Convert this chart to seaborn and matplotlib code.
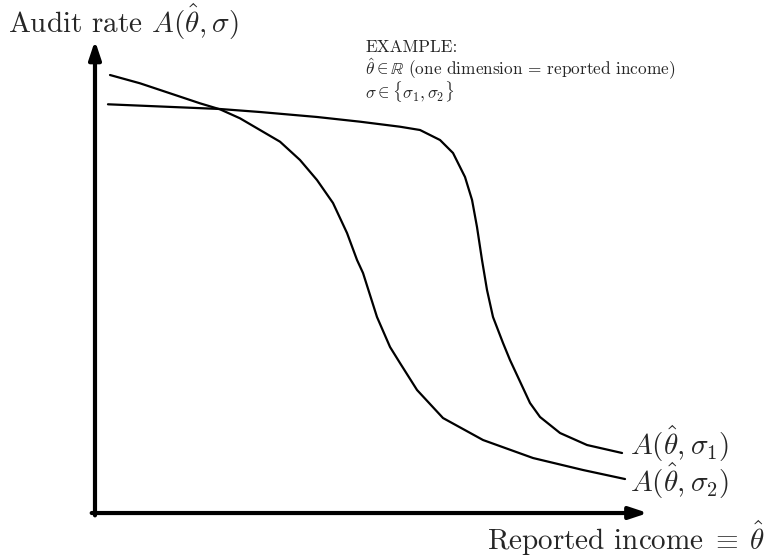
import matplotlib
matplotlib.use("Agg")
import matplotlib.pyplot as plt
import pandas as pd
import seaborn as sns

# Audit rate as a function of reported income, for two signals
income_s1 = [0.236, 2.273, 3.000, 4.036, 4.818, 5.545, 5.909, 6.273, 6.509,
             6.727, 6.855, 6.945, 7.036, 7.127, 7.236, 7.418, 7.545,
             7.909, 8.091, 8.455, 8.945, 9.582]
rate_s1 = [8.696, 8.596, 8.532, 8.426, 8.326, 8.219, 8.149, 7.936, 7.660,
           7.149, 6.660, 6.085, 5.383, 4.745, 4.170, 3.617, 3.255,
           2.340, 2.043, 1.702, 1.447, 1.277]

income_s2 = [0.273, 0.818, 1.364, 1.909, 2.273, 2.636, 3.000, 3.364, 3.727,
             4.036, 4.327, 4.582, 4.764, 4.873, 5.127, 5.364, 5.545, 5.855,
             6.327, 7.055, 7.964, 8.873, 9.636]
rate_s2 = [9.319, 9.143, 8.930, 8.717, 8.589, 8.398, 8.149, 7.900, 7.511,
           7.085, 6.596, 5.957, 5.383, 5.106, 4.170, 3.532, 3.191, 2.617,
           2.021, 1.553, 1.170, 0.915, 0.723]

labels = [r"$A(\hat{\theta},\sigma_1)$", r"$A(\hat{\theta},\sigma_2)$"]

df = pd.concat([
    pd.DataFrame({"income": income_s1, "rate": rate_s1, "curve": labels[0]}),
    pd.DataFrame({"income": income_s2, "rate": rate_s2, "curve": labels[1]}),
])

sns.set_theme(style="white")
plt.rcParams["font.family"] = ["cmr10", "DejaVu Serif"]
plt.rcParams["mathtext.fontset"] = "cm"
plt.rcParams["axes.formatter.use_mathtext"] = True

fig = plt.figure(figsize=(7.71, 5.58), dpi=100)
ax = fig.add_axes([0, 0, 1, 1])
ax.set_xlim(-1.727, 12.29)
ax.set_ylim(-0.957, 10.915)
ax.axis("off")

sns.lineplot(data=df, x="income", y="rate", hue="curve", units="curve",
             estimator=None, sort=False, palette=["black", "black"],
             linewidth=1.6, legend=False, ax=ax,
             solid_joinstyle="round", solid_capstyle="round")

# Axes drawn as arrows
arrow = dict(arrowstyle="-|>,head_length=0.9,head_width=0.3", lw=3.0,
             color="black", shrinkA=0, shrinkB=0)
ax.annotate("", xy=(0, 10.05), xytext=(0, -0.05), arrowprops=arrow)
ax.annotate("", xy=(10.05, 0), xytext=(-0.06, 0), arrowprops=arrow)

# Axis titles
ax.text(-1.58, 10.21, r"Audit rate $A(\hat{\theta},\sigma)$", fontsize=21,
        ha="left", va="baseline")
ax.text(12.18, -0.79, r"Reported income$\;\equiv\;\hat{\theta}$", fontsize=21,
        ha="right", va="baseline")

# Example note
ax.text(4.91, 9.80, "EXAMPLE:", fontsize=12.4, ha="left", va="baseline")
ax.text(4.91, 9.32,
        r"$\hat{\theta}\in\mathbb{R}$ (one dimension = reported income)",
        fontsize=12.4, ha="left", va="baseline")
ax.text(4.91, 8.82, r"$\sigma\in\{\sigma_1,\sigma_2\}$", fontsize=12.4,
        ha="left", va="baseline")

# Curve labels
ax.text(9.73, 1.234, labels[0], fontsize=21, ha="left", va="baseline")
ax.text(9.73, 0.447, labels[1], fontsize=21, ha="left", va="baseline")

fig.savefig("out.png", dpi=100)
